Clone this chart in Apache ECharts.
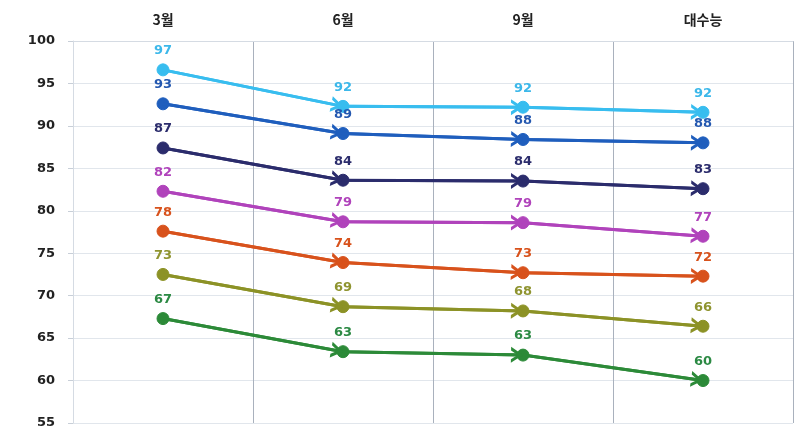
<!DOCTYPE html>
<html><head><meta charset="utf-8">
<script src="https://cdn.jsdelivr.net/npm/echarts@6/dist/echarts.min.js"></script>
<style>html,body{margin:0;padding:0;background:#fff}#c{width:795px;height:432px}</style>
</head><body><div id="c"></div>
<script>
const categories = ['3월', '6월', '9월', '대수능'];
const yTicks = [55, 60, 65, 70, 75, 80, 85, 90, 95, 100];
const sLightBlue = [96.6, 92.3, 92.2, 91.6];
const sBlue = [92.6, 89.1, 88.4, 88.0];
const sNavy = [87.4, 83.6, 83.5, 82.6];
const sMagenta = [82.3, 78.7, 78.6, 77.0];
const sOrange = [77.6, 73.9, 72.7, 72.3];
const sOlive = [72.5, 68.7, 68.2, 66.4];
const sGreen = [67.3, 63.4, 63.0, 60.0];

const seriesDefs = [
  {data: sLightBlue, color: '#38bdef', label: '#3cb8ea'},
  {data: sBlue, color: '#1f5ebd', label: '#2458b0'},
  {data: sNavy, color: '#2b2c6c', label: '#2b2c6c'},
  {data: sMagenta, color: '#b043bb', label: '#b043bb'},
  {data: sOrange, color: '#d8521c', label: '#d8521c'},
  {data: sOlive, color: '#8c9226', label: '#8f9430'},
  {data: sGreen, color: '#2c8a38', label: '#2c8a44'}
];
// open chevron whose tip sits at the centre of its bounding box (speck balances bbox)
const chevron = 'path://M0,12 L8,0 L16,12 L12.4,12 L8,5.4 L3.6,12 Z M8,-12 L8.05,-12 L8,-11.95 Z';

const series = seriesDefs.map(d => {
  const segs = [];
  for (let i = 1; i < d.data.length; i++) {
    segs.push([{coord: [i - 1, d.data[i - 1]]}, {coord: [i, d.data[i]]}]);
  }
  return {
    type: 'line',
    data: d.data,
    symbol: 'circle',
    symbolSize: 12,
    itemStyle: {color: d.color, borderColor: d.color, borderWidth: 1},
    lineStyle: {color: d.color, width: 3},
    label: {show: true, position: 'top', distance: 6, color: d.label,
      fontFamily: 'DejaVu Sans', fontWeight: 'bold', fontSize: 13,
      formatter: p => Math.round(p.value)},
    markLine: {
      silent: true,
      animation: false,
      symbol: ['none', chevron],
      symbolSize: [16, 24],
      label: {show: false},
      lineStyle: {color: d.color, width: 3, type: 'solid'},
      data: segs
    },
    animation: false,
    z: 3
  };
});

const chart = echarts.init(document.getElementById('c'));
chart.setOption({
  animation: false,
  grid: {left: 73, right: 2, top: 41, bottom: 9, containLabel: false},
  xAxis: {
    type: 'category',
    data: categories,
    position: 'top',
    boundaryGap: true,
    axisLine: {show: true, lineStyle: {color: '#d5dbe3', width: 1}},
    axisTick: {show: false},
    axisLabel: {color: '#222', fontFamily: 'Noto Sans CJK KR', fontWeight: 'bold', fontSize: 14, margin: 14},
    splitLine: {show: true, lineStyle: {color: '#a9b1bd', width: 1}}
  },
  yAxis: {
    type: 'value',
    min: 55, max: 100, interval: 5,
    axisLine: {show: true, lineStyle: {color: '#d5dbe3', width: 1}},
    axisTick: {show: true, length: 5, lineStyle: {color: '#c8cfd8'}},
    axisLabel: {color: '#222', fontFamily: 'DejaVu Sans', fontWeight: 'bold', fontSize: 13, margin: 18,
      customValues: yTicks},
    splitLine: {show: true, lineStyle: {color: '#e1e6ec', width: 1}}
  },
  series: series
});
</script>
</body></html>
